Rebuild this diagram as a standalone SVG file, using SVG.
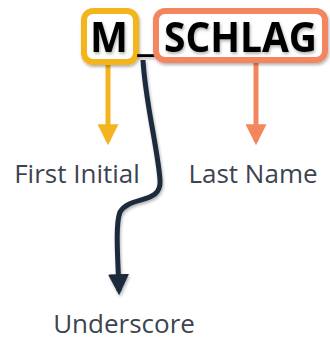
<svg xmlns="http://www.w3.org/2000/svg" width="330" height="341" viewBox="0 0 330 341">
<style>
.big{font-family:"Open Sans","Noto Sans",sans-serif;font-weight:bold;font-size:42px;fill:#000}
.lbl{font-family:"Open Sans","Noto Sans",sans-serif;font-size:26px;fill:#3d4351}
</style>
<defs>
<filter id="sh" x="-20%" y="-20%" width="140%" height="140%"><feDropShadow dx="1" dy="2" stdDeviation="1.5" flood-color="#000" flood-opacity="0.3"/></filter>
<marker id="ay" viewBox="0 0 10 10" refX="8" refY="5" markerWidth="4.2" markerHeight="4.2" orient="auto" markerUnits="strokeWidth"><path d="M0,0 L10,5 L0,10 z" fill="#f4b41f"/></marker>
<marker id="ao" viewBox="0 0 10 10" refX="8" refY="5" markerWidth="4.2" markerHeight="4.2" orient="auto" markerUnits="strokeWidth"><path d="M0,0 L10,5 L0,10 z" fill="#f4865f"/></marker>
<marker id="ad" viewBox="0 0 10 10" refX="8" refY="5" markerWidth="4.2" markerHeight="4.2" orient="auto" markerUnits="strokeWidth"><path d="M0,0 L10,5 L0,10 z" fill="#1f2a3d"/></marker>
</defs>
<g id="connectors" fill="none">
<path d="M108,63 V141" stroke="#f4b41f" stroke-width="5" marker-end="url(#ay)"/>
<path d="M256,62 V141" stroke="#f4865f" stroke-width="5" marker-end="url(#ao)"/>
<path d="M143,60 C145,100 158,150 160,180 C162,205 130,195 120,212 C115,225 118,260 119,291" stroke="#1f2a3d" stroke-width="5" marker-end="url(#ad)" filter="url(#sh)"/>
</g>
<g id="initial">
<rect x="84" y="11" width="52" height="51" rx="9" fill="#fff" stroke="#f4b41f" stroke-width="6" filter="url(#sh)"/>
<text class="big" x="90" y="52" textLength="38" lengthAdjust="spacingAndGlyphs" filter="url(#sh)">M</text>
</g>
<g id="underscore">
<text class="big" x="146" y="50" text-anchor="middle" filter="url(#sh)">_</text>
</g>
<g id="lastname">
<rect x="156" y="11" width="169" height="49" rx="9" fill="#fff" stroke="#f4865f" stroke-width="6" filter="url(#sh)"/>
<text class="big" x="164" y="52" textLength="153" lengthAdjust="spacingAndGlyphs" filter="url(#sh)">SCHLAG</text>
</g>
<g id="label-first"><text class="lbl" x="77" y="183" text-anchor="middle">First Initial</text></g>
<g id="label-last"><text class="lbl" x="253" y="183" text-anchor="middle">Last Name</text></g>
<g id="label-under"><text class="lbl" x="124" y="333" text-anchor="middle">Underscore</text></g>
</svg>
